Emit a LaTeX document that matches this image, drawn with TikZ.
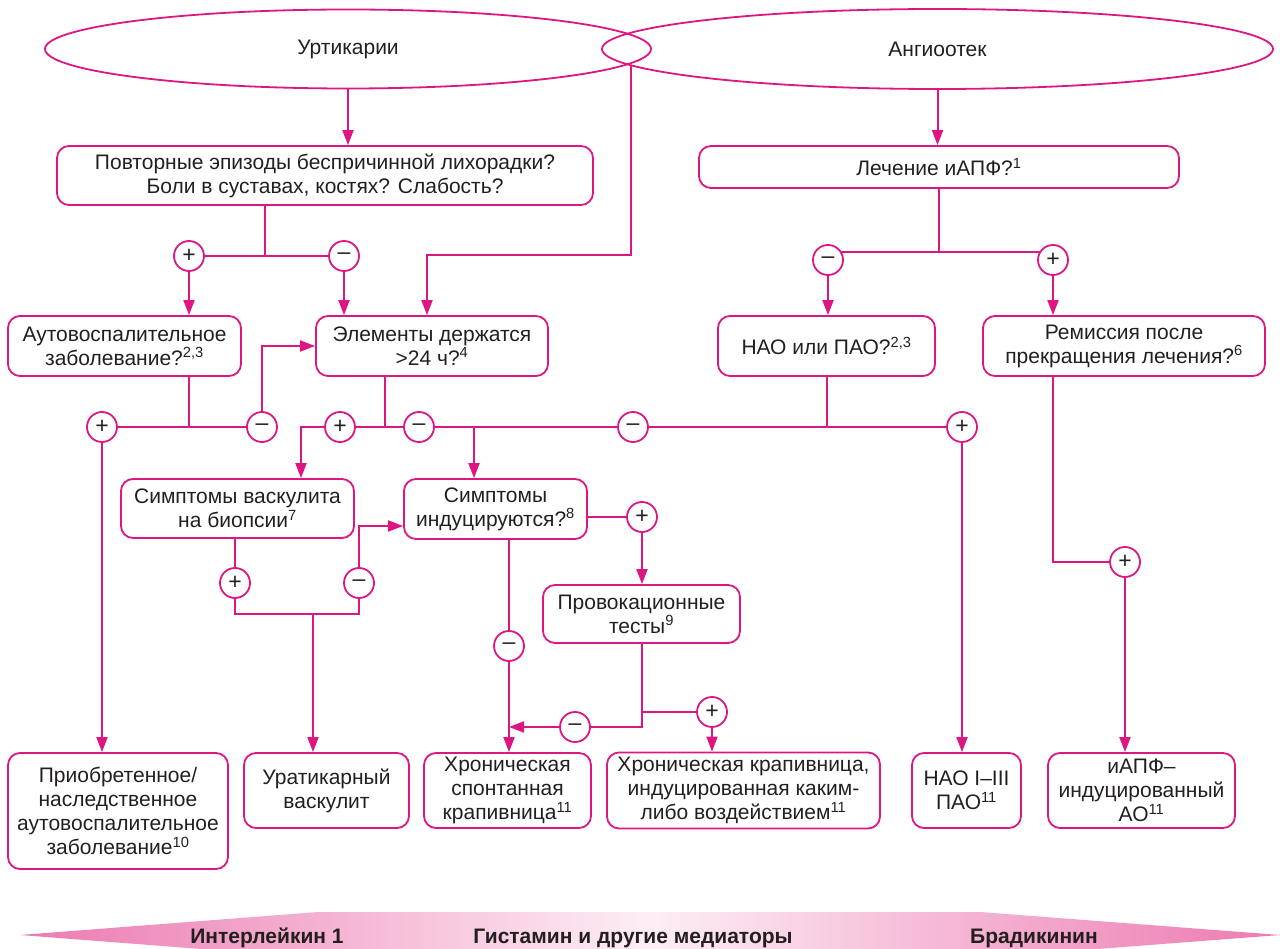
\documentclass[tikz,border=0pt]{standalone}
\usepackage{fontspec}
\setmainfont{Liberation Sans}
\usepackage{tikz}
\usetikzlibrary{arrows.meta,shapes.geometric,calc}
\definecolor{mag}{RGB}{222,22,130}
\definecolor{ink}{RGB}{35,31,32}
\definecolor{bandpink}{RGB}{236,122,176}
\definecolor{bandlight}{RGB}{253,238,245}

\begin{document}
\begin{tikzpicture}[x=1pt, y=-1pt, font=\fontsize{21}{24}\selectfont, text=ink,
	box/.style={draw=mag, line width=1.8pt, rounded corners=12pt, align=center, inner sep=3pt},
	oval/.style={ellipse, draw=mag, line width=1.8pt, inner sep=0pt},
	sign/.style={circle, draw=mag, line width=1.8pt, fill=white, minimum size=30pt, inner sep=0pt, font=\fontsize{23}{23}\selectfont},
	ln/.style={draw=mag, line width=2pt},
	arr/.style={ln, -{Triangle[length=15pt, width=11pt]}},
	bandtext/.style={font=\bfseries\fontsize{21}{21}\selectfont}]
				\useasboundingbox (0,0) rectangle (1280,949);

				% Top ovals
				\node [oval, minimum width=606pt, minimum height=79pt] (urt) at (348,49) {Уртикарии};
				\node [oval, minimum width=671pt, minimum height=80pt] (angio) at (937.5,49) {Ангиоотек};
				\coordinate (overlap) at (631,66);

				% Questions
				\node [box, minimum width=536pt, minimum height=59pt] (fever) at (325,175.5) {Повторные эпизоды беспричинной лихорадки?\\Боли в суставах, костях? Слабость?};
				\node [box, minimum width=480pt, minimum height=42pt] (acei) at (939,167) {Лечение иАПФ?\textsuperscript{1}};
				\node [box, minimum width=233pt, minimum height=60pt] (auto) at (124.5,346) {Аутовоспалительное\\заболевание?\textsuperscript{2,3}};
				\node [box, minimum width=232pt, minimum height=60pt] (elem) at (432,346) {Элементы держатся\\>24 ч?\textsuperscript{4}};
				\node [box, minimum width=217pt, minimum height=60pt] (hao) at (826.5,346) {НАО или ПАО?\textsuperscript{2,3}};
				\node [box, minimum width=282pt, minimum height=60pt] (remis) at (1124,346) {Ремиссия после\\прекращения лечения?\textsuperscript{6}};
				\node [box, minimum width=233pt, minimum height=59pt] (vasc) at (237.5,508.5) {Симптомы васкулита\\на биопсии\textsuperscript{7}};
				\node [box, minimum width=183pt, minimum height=60pt] (induc) at (495.5,509) {Симптомы\\индуцируются?\textsuperscript{8}};
				\node [box, minimum width=197pt, minimum height=58pt] (provo) at (641.5,614) {Провокационные\\тесты\textsuperscript{9}};

				% Diagnoses
				\node [box, minimum width=220pt, minimum height=116pt] (acq) at (118,811) {Приобретенное/\\наследственное\\аутовоспалительное\\заболевание\textsuperscript{10}};
				\node [box, minimum width=165pt, minimum height=75pt] (uvasc) at (326.5,790.5) {Уратикарный\\васкулит};
				\node [box, minimum width=167pt, minimum height=75pt] (csu) at (507.5,790.5) {Хроническая\\спонтанная\\крапивница\textsuperscript{11}};
				\node [box, minimum width=273pt, minimum height=76pt] (cindu) at (743.5,790.5) {Хроническая крапивница,\\индуцированная каким-\\либо воздействием\textsuperscript{11}};
				\node [box, minimum width=109pt, minimum height=75pt] (hae) at (966.5,790.5) {НАО I–III\\ПАО\textsuperscript{11}};
				\node [box, minimum width=187pt, minimum height=75pt] (aceao) at (1141.5,790.5) {иАПФ–\\индуцированный\\АО\textsuperscript{11}};

				% Answers
				\node [sign] (p1) at (189,256) {+};
				\node [sign] (m1) at (344,256) {–};
				\node [sign] (m2) at (828,260) {–};
				\node [sign] (p2) at (1053,260) {+};
				\node [sign] (p3) at (102,427) {+};
				\node [sign] (m3) at (262,427) {–};
				\node [sign] (p4) at (340,427) {+};
				\node [sign] (m4) at (419,427) {–};
				\node [sign] (m5) at (633,427) {–};
				\node [sign] (p5) at (962,427) {+};
				\node [sign] (p6) at (235,583) {+};
				\node [sign] (m6) at (359,583) {–};
				\node [sign] (p7) at (642,517) {+};
				\node [sign] (m7) at (509,646) {–};
				\node [sign] (m8) at (575,727) {–};
				\node [sign] (p8) at (712,712) {+};
				\node [sign] (p9) at (1125,562) {+};

				\coordinate (j1) at (265,256);
				\coordinate (bend) at (427,255);
				\coordinate (j4) at (385,427);
				\coordinate (j5) at (301,427);
				\coordinate (j6) at (474,427);
				\coordinate (j7) at (313,614);

				% Urticaria branch
				\draw [arr] (urt.south) -- (urt.south |- fever.north);
				\draw [ln] (j1 |- fever.south) -- (j1);
				\draw [ln] (p1) -- (m1);
				\draw [arr] (p1) -- (p1 |- auto.north);
				\draw [arr] (m1) -- (m1 |- elem.north);
				\draw [arr] (overlap) |- (bend) -- (bend |- elem.north);

				\draw [ln] (p1 |- auto.south) -- (p1 |- p3);
				\draw [ln] (p3) -- (m3);
				\draw [arr] (m3) |- (elem.west);
				\draw [arr] (p3) -- (p3 |- acq.north);

				\draw [ln] (j4 |- elem.south) -- (j4);
				\draw [ln] (p4) -- (m4);
				\draw [ln] (m4) -- (m5);
				\draw [ln] (m5) -- (p5);
				\draw [arr] (p4) -- (j5) -- (j5 |- vasc.north);
				\draw [arr] (j6) -- (j6 |- induc.north);

				\draw [ln] (p6 |- vasc.south) -- (p6);
				\draw [ln] (p6) |- (m6 |- j7) -- (m6);
				\draw [arr] (m6) |- ($(induc.west)+(0,17)$);
				\draw [arr] (j7) -- (j7 |- uvasc.north);

				\draw [ln] (induc.east |- p7) -- (p7);
				\draw [arr] (p7) -- (p7 |- provo.north);
				\draw [ln] (m7 |- induc.south) -- (m7);
				\draw [arr] (m7) -- (m7 |- csu.north);
				\draw [ln] (provo.south) |- (m8);
				\draw [ln] (provo.south |- p8) -- (p8);
				\draw [arr] (m8) -- (m8 -| m7);
				\draw [arr] (p8) -- (p8 |- cindu.north);

				% Angioedema branch
				\draw [arr] (angio.south) -- (angio.south |- acei.north);
				\draw [ln] (acei.south) -- (acei.south |- m2.32);
				\draw [ln] (m2.32) -- (p2.148);
				\draw [arr] (m2) -- (m2 |- hao.north);
				\draw [arr] (p2) -- (p2 |- remis.north);
				\draw [ln] (hao.south) -- (hao.south |- p5);
				\draw [arr] (p5) -- (p5 |- hae.north);
				\draw [ln] (p2 |- remis.south) |- (p9);
				\draw [arr] (p9) -- (p9 |- aceao.north);

				% Mediators
				\shade [left color=bandpink, right color=bandpink, middle color=bandlight] (20,935) -- (318,912) -- (980,912) -- (1280,935) -- (980,958) -- (318,958) -- cycle;
				\node [bandtext] (il) at (267,938) {Интерлейкин 1};
				\node [bandtext] (hist) at (633,938) {Гистамин и другие медиаторы};
				\node [bandtext] (brad) at (1034,938) {Брадикинин};
			\end{tikzpicture}
\end{document}
